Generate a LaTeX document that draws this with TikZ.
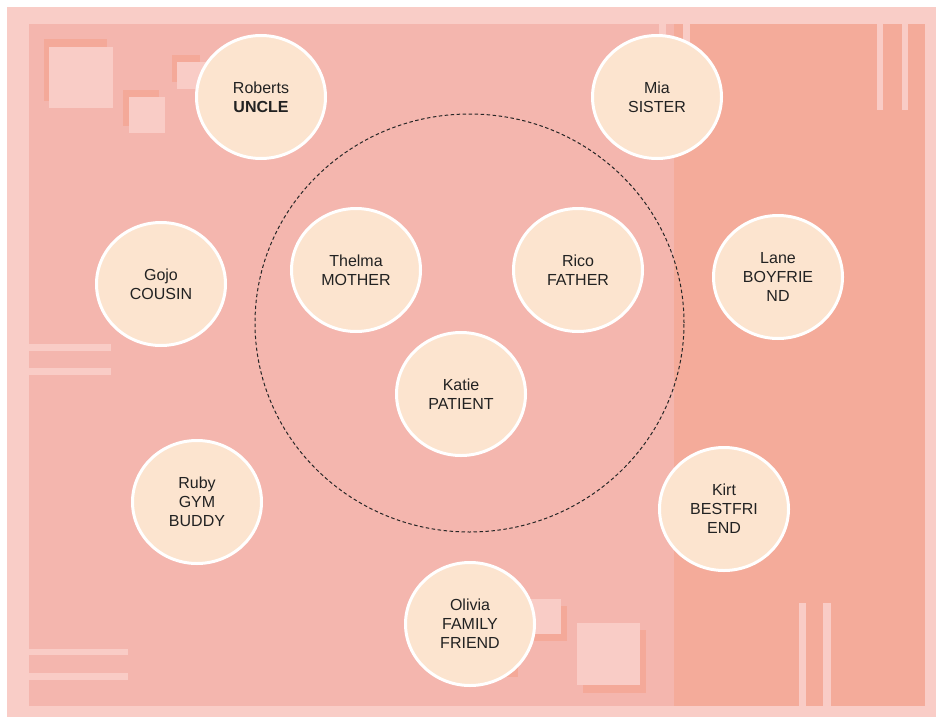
\documentclass[tikz,border=0pt]{standalone}
\usepackage{fontspec}
\setmainfont{Liberation Sans}
\usepackage{xcolor}
\usepackage{tikz}
\usetikzlibrary{shapes,positioning}
\definecolor{framepink}{HTML}{F9CDC7}
\definecolor{boardpink}{HTML}{F4B6AE}
\definecolor{panelpink}{HTML}{F4AB9A}
\definecolor{patchlight}{HTML}{F9CCC6}
\definecolor{patchdark}{HTML}{F4A999}
\definecolor{bubble}{HTML}{FCE4CF}
\definecolor{inktext}{HTML}{222222}

\begin{document}
\begin{tikzpicture}[
        x=1pt, y=-1pt,
        person/.style={ellipse, draw=white, line width=3pt, fill=bubble, minimum width=129pt, minimum height=123pt, inner sep=0pt, align=center, text=inktext, font=\fontsize{16}{19}\selectfont},
        ring/.style={draw=black!85, dash pattern=on 3.5pt off 2.5pt, line width=1pt},
        patch/.style={fill=patchlight},
        shade/.style={fill=patchdark},
        stripe/.style={fill=patchlight}
    ]
        \useasboundingbox (0,0) rectangle (936,717);
        % board
        \fill[framepink] (7,7) rectangle (936,717);
        \fill[boardpink] (29,24) rectangle (925,706);
        \fill[panelpink] (674,24) rectangle (925,706);

        % stripes
        \fill[stripe] (659,24) rectangle (666,110);
        \fill[stripe] (683,24) rectangle (690,110);
        \fill[stripe] (877,24) rectangle (883,110);
        \fill[stripe] (902,24) rectangle (908,110);
        \fill[stripe] (799,603) rectangle (806,706);
        \fill[stripe] (823,603) rectangle (831,706);
        \fill[stripe] (29,344) rectangle (111,351);
        \fill[stripe] (29,368) rectangle (111,375);
        \fill[stripe] (29,649) rectangle (128,655);
        \fill[stripe] (29,673) rectangle (128,680);

        % squares
        \fill[shade] (44,39) rectangle (107,101);
        \fill[patch] (49,47) rectangle (113,108);
        \fill[shade] (123,90) rectangle (159,126);
        \fill[patch] (129,97) rectangle (165,133);
        \fill[shade] (172,55) rectangle (200,82);
        \fill[patch] (177,62) rectangle (210,89);
        \fill[shade] (516,606) rectangle (567,641);
        \fill[patch] (510,599) rectangle (561,634);
        \fill[shade] (470,617) rectangle (518,677);
        \fill[patch] (464,610) rectangle (512,670);
        \fill[shade] (583,630) rectangle (646,693);
        \fill[patch] (577,623) rectangle (640,685);

        \draw[ring] (469.5,323) ellipse [x radius=214.5pt, y radius=209pt];

        \node[person] (roberts) at (261,97) {Roberts\\\textbf{UNCLE}};
        \node[person] (mia) at (657,97) {Mia\\SISTER};
        \node[person] (gojo) at (161,284) {Gojo\\COUSIN};
        \node[person] (thelma) at (356,270) {Thelma\\MOTHER};
        \node[person] (rico) at (578,270) {Rico\\FATHER};
        \node[person] (lane) at (778,277) {Lane\\BOYFRIE\\ND};
        \node[person] (katie) at (461,394) {Katie\\PATIENT};
        \node[person] (ruby) at (197,502) {Ruby\\GYM\\BUDDY};
        \node[person] (kirt) at (724,509) {Kirt\\BESTFRI\\END};
        \node[person] (olivia) at (470,624) {Olivia\\FAMILY\\FRIEND};
    \end{tikzpicture}
\end{document}
